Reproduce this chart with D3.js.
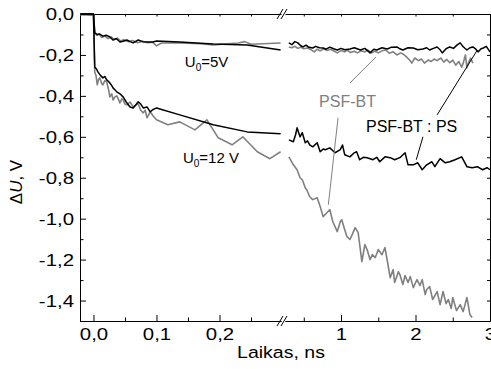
<!DOCTYPE html>
<html>
<head>
<meta charset="utf-8">
<script src="https://cdn.jsdelivr.net/npm/d3@7"></script>
<style>
  body { margin: 0; background: #fff; }
  svg { display: block; }
  text { font-family: "Liberation Sans", Arial, sans-serif; }
</style>
</head>
<body>
<svg id="chart" width="491" height="369"></svg>
<script>
// time in ns, dU in V; left part of the broken axis is 0..0.3 ns, right part 0.3..3 ns
var blk5L = [[-0.021,0],[-0.01,0],[0,0],[0.002,-0.093],[0.006,-0.10],[0.01,-0.098],[0.015,-0.108],[0.02,-0.104],[0.026,-0.112],[0.031,-0.127],[0.036,-0.12],[0.042,-0.137],[0.047,-0.133],[0.053,-0.127],[0.058,-0.135],[0.063,-0.141],[0.071,-0.127],[0.078,-0.135],[0.085,-0.137],[0.094,-0.137],[0.1,-0.132],[0.137,-0.137],[0.19,-0.146],[0.244,-0.151],[0.297,-0.176]]
var gry5L = [[-0.021,-0.004],[-0.012,-0.002],[-0.004,-0.006],[0,-0.004],[0.002,-0.085],[0.005,-0.105],[0.009,-0.098],[0.013,-0.115],[0.018,-0.108],[0.023,-0.12],[0.028,-0.112],[0.033,-0.125],[0.038,-0.118],[0.043,-0.132],[0.048,-0.126],[0.055,-0.135],[0.062,-0.13],[0.07,-0.14],[0.078,-0.133],[0.086,-0.14],[0.094,-0.138],[0.1,-0.156],[0.108,-0.142],[0.137,-0.141],[0.17,-0.145],[0.19,-0.151],[0.23,-0.142],[0.24,-0.135],[0.25,-0.148],[0.297,-0.142]]
var blk12L = [[-0.021,0],[-0.01,0],[0,0],[0.002,-0.259],[0.005,-0.27],[0.007,-0.283],[0.011,-0.30],[0.015,-0.312],[0.018,-0.305],[0.021,-0.322],[0.024,-0.33],[0.026,-0.337],[0.029,-0.35],[0.031,-0.361],[0.034,-0.37],[0.037,-0.38],[0.042,-0.39],[0.047,-0.405],[0.052,-0.43],[0.058,-0.454],[0.063,-0.459],[0.067,-0.445],[0.071,-0.429],[0.075,-0.44],[0.079,-0.459],[0.085,-0.454],[0.09,-0.478],[0.094,-0.468],[0.1,-0.459],[0.137,-0.493],[0.19,-0.541],[0.244,-0.576],[0.297,-0.585]]
var gry12L = [[-0.021,-0.004],[-0.012,-0.003],[-0.004,-0.006],[0,-0.004],[0.002,-0.283],[0.004,-0.30],[0.006,-0.346],[0.008,-0.32],[0.01,-0.312],[0.013,-0.34],[0.015,-0.346],[0.018,-0.325],[0.021,-0.332],[0.024,-0.37],[0.026,-0.405],[0.029,-0.39],[0.031,-0.42],[0.034,-0.405],[0.037,-0.40],[0.04,-0.42],[0.042,-0.434],[0.045,-0.415],[0.047,-0.42],[0.05,-0.44],[0.053,-0.444],[0.058,-0.43],[0.063,-0.454],[0.067,-0.445],[0.071,-0.439],[0.075,-0.47],[0.079,-0.483],[0.082,-0.47],[0.085,-0.507],[0.09,-0.478],[0.095,-0.50],[0.1,-0.517],[0.118,-0.541],[0.137,-0.527],[0.161,-0.566],[0.18,-0.517],[0.198,-0.605],[0.22,-0.639],[0.237,-0.60],[0.26,-0.673],[0.28,-0.707],[0.297,-0.673]]

var blk5R = [[0.3,-0.141],[0.34,-0.15],[0.38,-0.135],[0.42,-0.141],[0.46,-0.155],[0.49,-0.161],[0.53,-0.152],[0.57,-0.163],[0.62,-0.166],[0.66,-0.158],[0.71,-0.165],[0.76,-0.166],[0.8,-0.172],[0.85,-0.162],[0.9,-0.17],[0.95,-0.176],[1.0,-0.168],[1.05,-0.175],[1.12,-0.171],[1.18,-0.165],[1.26,-0.176],[1.32,-0.168],[1.39,-0.19],[1.44,-0.172],[1.48,-0.176],[1.55,-0.165],[1.62,-0.171],[1.68,-0.162],[1.75,-0.161],[1.79,-0.17],[1.83,-0.176],[1.9,-0.165],[1.97,-0.166],[2.03,-0.175],[2.1,-0.171],[2.15,-0.165],[2.19,-0.176],[2.24,-0.168],[2.29,-0.161],[2.33,-0.175],[2.36,-0.19],[2.41,-0.17],[2.46,-0.161],[2.51,-0.168],[2.56,-0.151],[2.6,-0.141],[2.64,-0.16],[2.69,-0.176],[2.73,-0.165],[2.77,-0.161],[2.81,-0.172],[2.84,-0.185],[2.88,-0.17],[2.91,-0.166],[2.95,-0.158],[3.0,-0.185]]
var gry5R = [[0.3,-0.161],[0.34,-0.165],[0.38,-0.158],[0.42,-0.168],[0.46,-0.162],[0.5,-0.17],[0.55,-0.166],[0.6,-0.175],[0.64,-0.185],[0.68,-0.172],[0.72,-0.18],[0.77,-0.17],[0.81,-0.178],[0.86,-0.172],[0.91,-0.182],[0.95,-0.19],[1.0,-0.178],[1.05,-0.185],[1.08,-0.176],[1.13,-0.188],[1.18,-0.182],[1.22,-0.19],[1.27,-0.18],[1.32,-0.185],[1.36,-0.176],[1.41,-0.19],[1.46,-0.182],[1.5,-0.19],[1.55,-0.18],[1.6,-0.176],[1.65,-0.192],[1.7,-0.185],[1.75,-0.2],[1.8,-0.19],[1.83,-0.195],[1.88,-0.21],[1.92,-0.225],[1.95,-0.24],[1.99,-0.215],[2.04,-0.228],[2.08,-0.22],[2.12,-0.24],[2.17,-0.225],[2.21,-0.232],[2.25,-0.22],[2.29,-0.228],[2.34,-0.215],[2.38,-0.235],[2.42,-0.222],[2.46,-0.238],[2.5,-0.225],[2.54,-0.25],[2.58,-0.232],[2.62,-0.26],[2.64,-0.24],[2.67,-0.2],[2.69,-0.263],[2.72,-0.23],[2.74,-0.215],[2.77,-0.24]]
var blk12R = [[0.3,-0.615],[0.36,-0.624],[0.39,-0.59],[0.41,-0.556],[0.45,-0.60],[0.48,-0.58],[0.52,-0.629],[0.55,-0.62],[0.58,-0.639],[0.62,-0.649],[0.68,-0.629],[0.72,-0.673],[0.76,-0.66],[0.79,-0.663],[0.85,-0.654],[0.92,-0.678],[0.99,-0.663],[1.02,-0.64],[1.05,-0.688],[1.12,-0.698],[1.17,-0.68],[1.21,-0.673],[1.25,-0.712],[1.3,-0.70],[1.35,-0.702],[1.43,-0.712],[1.48,-0.70],[1.52,-0.722],[1.59,-0.698],[1.66,-0.702],[1.72,-0.712],[1.79,-0.702],[1.86,-0.678],[1.9,-0.737],[1.97,-0.737],[2.03,-0.727],[2.09,-0.761],[2.15,-0.737],[2.22,-0.722],[2.26,-0.746],[2.33,-0.707],[2.4,-0.727],[2.46,-0.722],[2.53,-0.712],[2.62,-0.698],[2.69,-0.746],[2.76,-0.751],[2.83,-0.746],[2.9,-0.761],[2.96,-0.751],[3.0,-0.761]]
var gry12R = [[0.3,-0.698],[0.36,-0.737],[0.41,-0.761],[0.45,-0.80],[0.48,-0.81],[0.52,-0.849],[0.54,-0.859],[0.58,-0.893],[0.62,-0.907],[0.68,-0.898],[0.72,-0.941],[0.76,-0.99],[0.81,-0.971],[0.85,-0.956],[0.89,-1.015],[0.95,-1.063],[0.99,-1.015],[1.01,-1.005],[1.05,-1.054],[1.08,-1.088],[1.12,-1.102],[1.15,-1.078],[1.19,-1.044],[1.23,-1.068],[1.28,-1.21],[1.32,-1.127],[1.35,-1.151],[1.39,-1.20],[1.42,-1.176],[1.46,-1.19],[1.5,-1.151],[1.55,-1.176],[1.59,-1.141],[1.63,-1.224],[1.66,-1.288],[1.7,-1.249],[1.72,-1.312],[1.77,-1.259],[1.79,-1.273],[1.83,-1.322],[1.86,-1.278],[1.9,-1.312],[1.93,-1.283],[1.97,-1.337],[2.02,-1.298],[2.06,-1.327],[2.09,-1.298],[2.13,-1.371],[2.15,-1.346],[2.19,-1.332],[2.23,-1.395],[2.29,-1.356],[2.33,-1.42],[2.37,-1.356],[2.41,-1.415],[2.44,-1.395],[2.48,-1.439],[2.5,-1.385],[2.55,-1.449],[2.6,-1.42],[2.64,-1.454],[2.69,-1.385],[2.73,-1.468],[2.76,-1.483]]

var yMajor = [0, -0.2, -0.4, -0.6, -0.8, -1.0, -1.2, -1.4]
var yMinor = [-0.1, -0.3, -0.5, -0.7, -0.9, -1.1, -1.3, -1.5]
var xMajorL = [0, 0.1, 0.2]
var xMinorL = [0.05, 0.15, 0.25]
var xMajorR = [1, 2, 3]
var xMinorR = [0.5, 1.5, 2.5]

var black = "#000", gray = "#808080"
var svg = d3.select("#chart")

var xL = d3.scaleLinear().domain([-0.0214, 0.2976]).range([80, 281])
var xR = d3.scaleLinear().domain([0.248, 3]).range([285, 490])
var y = d3.scaleLinear().domain([-1.5, 0]).range([321, 14])

function fmt(d) {
    if (Math.abs(d) < 1e-9) return "0,0"
    return d.toFixed(1).replace(".", ",")
}
function fmtR(d) { return String(d) }

function styleAxis(g, sx) {
    g.select(".domain").attr("stroke", "#000").attr("stroke-width", 1)
    g.selectAll(".tick line").attr("stroke", "#000").attr("stroke-width", 1)
    g.selectAll("text")
        .attr("fill", "#000")
        .style("font-size", "17px")
        .style("font-family", '"Liberation Sans", Arial, sans-serif')
        .attr("transform", "scale(" + sx + ",1)")
}

// left y axis
var gy = svg.append("g").attr("transform", "translate(80,0)")
gy.call(d3.axisLeft(y).tickValues(yMajor).tickSize(-6).tickSizeOuter(0).tickPadding(5).tickFormat(fmt))
styleAxis(gy, 1.2)
gy.selectAll(".tick text").attr("dy", "0.35em")
var gym = svg.append("g").attr("transform", "translate(80,0)")
gym.call(d3.axisLeft(y).tickValues(yMinor).tickSize(-3.5).tickSizeOuter(0).tickFormat(""))
styleAxis(gym, 1)

// right y axis (ticks only)
var gyr = svg.append("g").attr("transform", "translate(490,0)")
gyr.call(d3.axisRight(y).tickValues(yMajor.concat(yMinor)).tickSize(-3).tickSizeOuter(0).tickFormat(""))
styleAxis(gyr, 1)

// bottom axes, two segments
function bottomSeg(scale, major, minor, f) {
    var g = svg.append("g").attr("transform", "translate(0,321)")
    g.call(d3.axisBottom(scale).tickValues(major).tickSize(-6).tickSizeOuter(0).tickPadding(7).tickFormat(f))
    styleAxis(g, 1.2)
    var gm = svg.append("g").attr("transform", "translate(0,321)")
    gm.call(d3.axisBottom(scale).tickValues(minor).tickSize(-3.5).tickSizeOuter(0).tickFormat(""))
    styleAxis(gm, 1)
    var gt = svg.append("g").attr("transform", "translate(0,14)")
    gt.call(d3.axisTop(scale).tickValues(major.concat(minor)).tickSize(-2.5).tickSizeOuter(0).tickFormat(""))
    styleAxis(gt, 1)
}
bottomSeg(xL, xMajorL, xMinorL, fmt)
bottomSeg(xR, xMajorR, xMinorR, fmtR)

// break marks on the x axis
var breakX = [xL.range()[1], xR.range()[0]]
;[14, 321].forEach(function(yy) {
    breakX.forEach(function(bx) {
        svg.append("line")
            .attr("x1", bx - 4).attr("y1", yy + 5)
            .attr("x2", bx + 2).attr("y2", yy - 5)
            .attr("stroke", "#000").attr("stroke-width", 1)
    })
})

// data lines
function drawLine(data, xs, color, w) {
    var line = d3.line().x(function(d) { return xs(d[0]) }).y(function(d) { return y(d[1]) })
    svg.append("path").datum(data)
        .attr("d", line)
        .attr("fill", "none")
        .attr("stroke", color)
        .attr("stroke-width", w)
        .attr("stroke-linejoin", "round")
}
drawLine(gry5L, xL, gray, 1.6)
drawLine(gry12L, xL, gray, 1.6)
drawLine(blk5L, xL, black, 1.5)
drawLine(blk12L, xL, black, 1.5)
drawLine(gry5R, xR, gray, 1.6)
drawLine(gry12R, xR, gray, 1.6)
drawLine(blk5R, xR, black, 1.5)
drawLine(blk12R, xR, black, 1.5)

// leader lines, in data coords of the right segment
var grayLeaders = [[[1.12, -0.337], [1.47, -0.21]], [[0.96, -0.507], [0.83, -0.932]]]
var blackLeaders = [[[2.29, -0.493], [2.83, -0.176]], [[2.10, -0.60], [2.01, -0.712]]]
function drawLeaders(list, color) {
    list.forEach(function(seg) {
        svg.append("line")
            .attr("x1", xR(seg[0][0])).attr("y1", y(seg[0][1]))
            .attr("x2", xR(seg[1][0])).attr("y2", y(seg[1][1]))
            .attr("stroke", color).attr("stroke-width", 1)
    })
}
drawLeaders(grayLeaders, gray)
drawLeaders(blackLeaders, black)

// annotations
svg.append("text")
    .attr("x", xR(0.705)).attr("y", y(-0.454))
    .attr("fill", gray).style("font-size", "16px")
    .text("PSF-BT")
svg.append("text")
    .attr("x", xR(1.335)).attr("y", y(-0.576))
    .attr("fill", black).style("font-size", "16px")
    .text("PSF-BT : PS")

function uLabel(t, v, rest) {
    var tx = svg.append("text")
        .attr("x", xL(t)).attr("y", y(v))
        .attr("fill", black).style("font-size", "15px")
    tx.append("tspan").text("U")
    tx.append("tspan").attr("dy", 4).style("font-size", "10px").text("0")
    tx.append("tspan").attr("dy", -4).text(rest)
}
uLabel(0.145, -0.259, "=5V")
uLabel(0.142, -0.727, "=12 V")

// axis titles
svg.append("text")
    .attr("x", 281).attr("y", 358)
    .attr("text-anchor", "middle")
    .attr("fill", black).style("font-size", "17px")
    .attr("transform", "translate(281,0) scale(1.15,1) translate(-281,0)")
    .text("Laikas, ns")

var yl = svg.append("text")
    .attr("transform", "translate(22,182) rotate(-90)")
    .attr("text-anchor", "middle")
    .attr("fill", black).style("font-size", "17px")
yl.append("tspan").text("Δ")
yl.append("tspan").style("font-style", "italic").text("U")
yl.append("tspan").text(", V")
</script>
</body>
</html>
